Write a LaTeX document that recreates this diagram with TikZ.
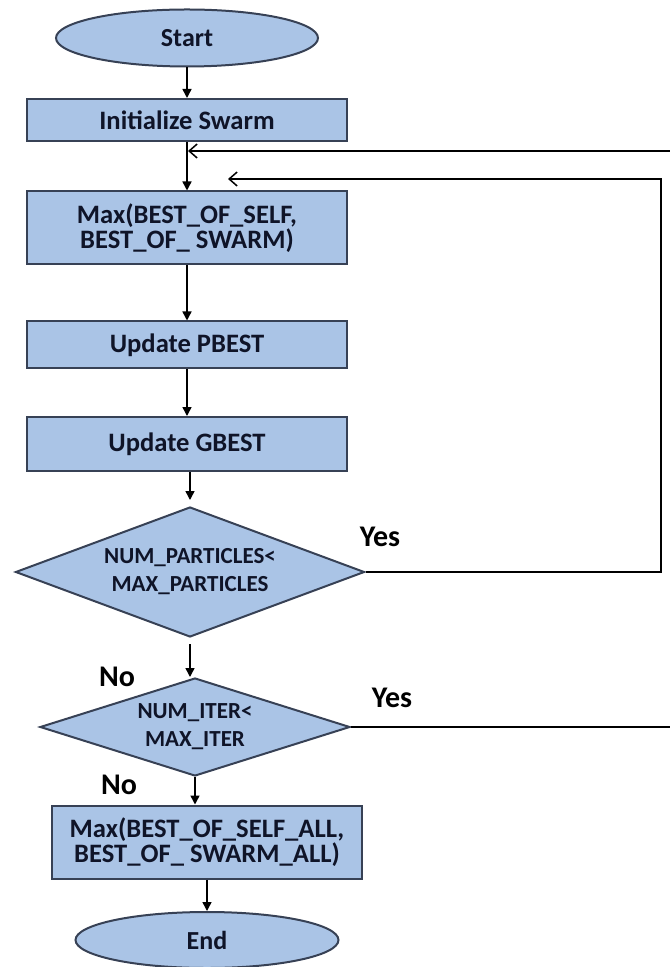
\documentclass[tikz,border=0pt]{standalone}
\usepackage{fontspec}
\setmainfont{Carlito}
\usepackage{tikz}
\usetikzlibrary{arrows.meta,shapes.geometric}
\usepackage{xcolor}
\definecolor{boxfill}{RGB}{170,196,230}
\definecolor{boxline}{RGB}{55,65,85}
\definecolor{boxtext}{RGB}{15,20,40}

\begin{document}
\begin{tikzpicture}[x=0.5pt,y=-0.5pt]
\tikzstyle{terminal} = [ellipse, draw=boxline, line width=1pt, fill=boxfill,
text=boxtext, font=\fontsize{13}{13}\bfseries, inner sep=0pt]
\tikzstyle{block} = [rectangle, draw=boxline, line width=1pt, fill=boxfill,
text=boxtext, font=\fontsize{13.3}{12.8}\bfseries, align=center, minimum width=160pt, inner sep=1pt]
\tikzstyle{decision} = [diamond, draw=boxline, line width=1pt, fill=boxfill,
text=boxtext, font=\fontsize{11.5}{14}\bfseries, align=center, inner sep=0pt]
\tikzstyle{line} = [draw, line width=0.75pt, -{Triangle[length=4.5pt,width=4.5pt]}]
\tikzstyle{back} = [draw, line width=0.75pt, -{Straight Barb[length=4pt,width=7pt]}]
\tikzstyle{answer} = [font=\fontsize{15}{15}\bfseries, inner sep=0pt]

\useasboundingbox (0,0) rectangle (669,967);

% main column
\node [terminal, minimum width=131pt, minimum height=28.5pt] (start) at (187,38) {Start};
\node [block, minimum height=21pt] (init) at (187,120) {Initialize Swarm};
\node [block, minimum height=36.5pt] (best) at (187,228) {Max(BEST\_OF\_SELF,\\BEST\_OF\_ SWARM)};
\node [block, minimum height=23.5pt] (pbest) at (187,345) {Update PBEST};
\node [block, minimum height=27pt] (gbest) at (187,444) {Update GBEST};
% decisions
\node [decision, aspect=2.68, minimum width=174.5pt, minimum height=65pt] (particles) at (190,572) {NUM\_PARTICLES<\\MAX\_PARTICLES};
\node [decision, aspect=3.16, minimum width=155pt, minimum height=49pt] (iter) at (195,727) {NUM\_ITER<\\MAX\_ITER};
% result
\node [block, minimum width=155pt, minimum height=36.5pt] (bestall) at (207,842) {Max(BEST\_OF\_SELF\_ALL,\\BEST\_OF\_ SWARM\_ALL)};
\node [terminal, minimum width=131.5pt, minimum height=28pt] (stop) at (207,940) {End};

% answers
\node [answer] (yes1) at (380,537) {Yes};
\node [answer] (no1) at (117,677) {No};
\node [answer] (yes2) at (392,698) {Yes};
\node [answer] (no2) at (119,785) {No};

\coordinate (loop1) at (661,179);
\coordinate (in1) at (228,179);
\coordinate (loop2) at (700,151);
\coordinate (in2) at (188,151);

\draw [line] (start) -- (init);
\draw [line] (init) -- (best);
\draw [line] (best) -- (pbest);
\draw [line] (pbest) -- (gbest);
\draw [line, shorten >=3pt] (gbest.south -| particles) -- (particles.north);
\draw [line, shorten <=3pt] (particles.south) -- (particles.south |- iter.north);
\draw [line] (iter.south) -- (iter.south |- bestall.north);
\draw [line] (bestall) -- (stop);
\draw [back] (particles.east) -| (loop1) -- (in1);
\draw [back] (iter.east) -| (loop2) -- (in2);
\end{tikzpicture}
\end{document}
